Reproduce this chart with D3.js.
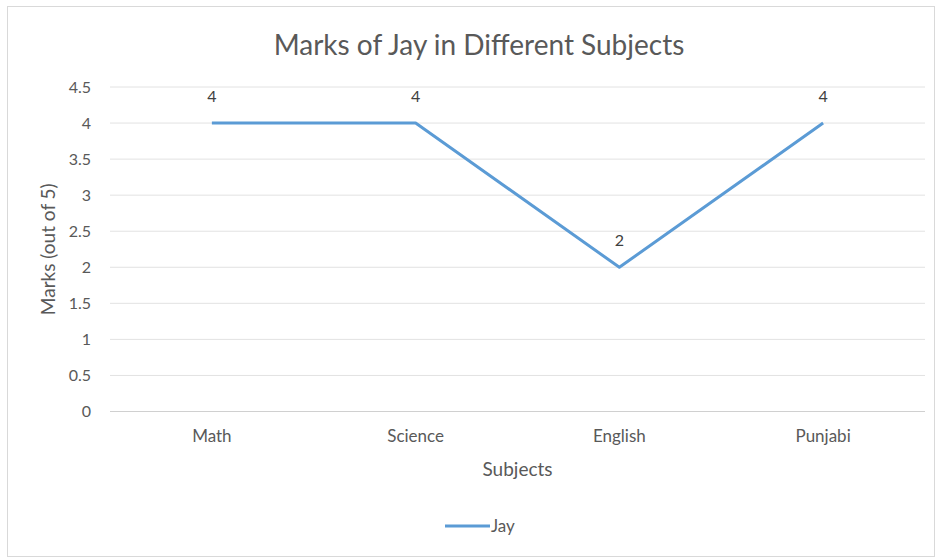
<!DOCTYPE html>
<html>
<head>
<meta charset="utf-8">
<script src="https://cdn.jsdelivr.net/npm/d3@7"></script>
<style>
    body { margin: 0; background: #fff; }
    svg text { font-family: Lato, "Open Sans", sans-serif; fill: #595959; }
</style>
</head>
<body>
<div id="chart"></div>
<script>
const subjects = ["Math", "Science", "English", "Punjabi"];
const jayMarks = [4, 4, 2, 4];
const yTicks = [0, 0.5, 1, 1.5, 2, 2.5, 3, 3.5, 4, 4.5];

const width = 941, height = 559;
const plot = { left: 110, right: 925, top: 87, bottom: 411.5 };
const lineColor = "#5b9bd5";

const svg = d3.select("#chart").append("svg")
    .attr("width", width)
    .attr("height", height);

// chart frame
svg.append("rect")
    .attr("x", 7.5).attr("y", 6.5)
    .attr("width", 927).attr("height", 550)
    .attr("fill", "#fff")
    .attr("stroke", "#d9d9d9");

const x = d3.scaleBand()
    .domain(subjects)
    .range([plot.left, plot.right]);

const y = d3.scaleLinear()
    .domain([0, 4.5])
    .range([plot.bottom, plot.top]);

// gridlines
svg.append("g").classed("grid", true)
    .selectAll("line")
    .data(yTicks)
    .enter().append("line")
        .attr("x1", plot.left).attr("x2", plot.right)
        .attr("y1", d => y(d)).attr("y2", d => y(d))
        .attr("stroke", (d) => d === 0 ? "#d0d0d0" : "#e2e2e2")
        .attr("stroke-width", 1);

// y tick labels
svg.append("g").classed("yLabels", true)
    .selectAll("text")
    .data(yTicks)
    .enter().append("text")
        .attr("x", 91)
        .attr("y", d => y(d))
        .attr("dy", "0.35em")
        .attr("text-anchor", "end")
        .style("font-size", "16px")
        .text(d => d);

// x tick labels
svg.append("g").classed("xLabels", true)
    .selectAll("text")
    .data(subjects)
    .enter().append("text")
        .attr("x", d => x(d) + x.bandwidth() / 2)
        .attr("y", 442)
        .attr("text-anchor", "middle")
        .style("font-size", "17px")
        .text(d => d);

// titles
svg.append("text")
    .attr("x", 479).attr("y", 55)
    .attr("text-anchor", "middle")
    .style("font-size", "28px")
    .text("Marks of Jay in Different Subjects");

svg.append("text")
    .attr("x", x.range()[0] + (x.range()[1] - x.range()[0]) / 2)
    .attr("y", 476)
    .attr("text-anchor", "middle")
    .style("font-size", "19px")
    .text("Subjects");

svg.append("text")
    .attr("transform", `translate(55, ${y(2.25)}) rotate(-90)`)
    .attr("text-anchor", "middle")
    .style("font-size", "19px")
    .text("Marks (out of 5)");

// the line
const points = subjects.map((s, i) => ({ subject: s, value: jayMarks[i] }));

const line = d3.line()
    .x(d => x(d.subject) + x.bandwidth() / 2)
    .y(d => y(d.value));

svg.append("path")
    .datum(points)
    .attr("d", line)
    .attr("fill", "none")
    .attr("stroke", lineColor)
    .attr("stroke-width", 3)
    .attr("stroke-linejoin", "round");

// data labels
svg.append("g").classed("dataLabels", true)
    .selectAll("text")
    .data(points)
    .enter().append("text")
        .attr("x", d => x(d.subject) + x.bandwidth() / 2)
        .attr("y", d => y(d.value) - 21)
        .attr("text-anchor", "middle")
        .style("font-size", "16px")
        .style("fill", "#404040")
        .text(d => d.value);

// legend
const legend = svg.append("g").attr("transform", "translate(445, 526)");
legend.append("line")
    .attr("x1", 0).attr("x2", 45)
    .attr("stroke", lineColor)
    .attr("stroke-width", 3);
legend.append("text")
    .attr("x", 46).attr("dy", "0.35em")
    .style("font-size", "17px")
    .text("Jay");
</script>
</body>
</html>
